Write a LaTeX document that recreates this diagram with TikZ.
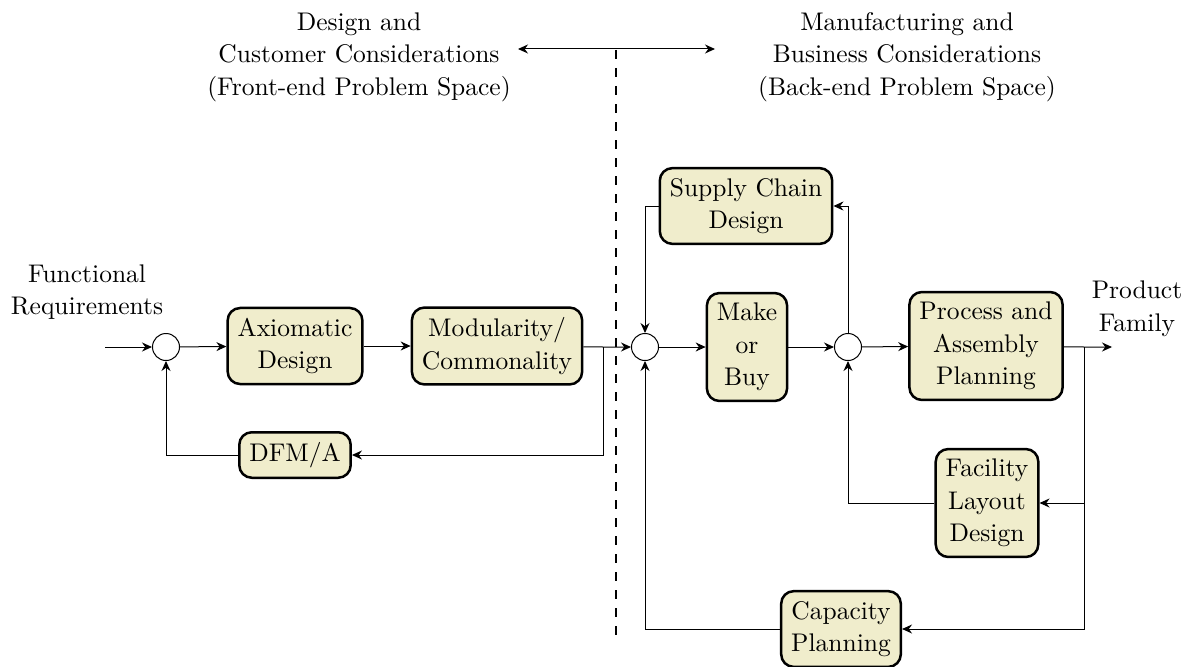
\documentclass[tikz,border=0pt]{standalone}
\usetikzlibrary{arrows.meta}
\definecolor{boxfill}{RGB}{240,237,204}
\begin{document}
\begin{tikzpicture}[x=0.4pt, y=-0.4pt,
  font=\fontsize{10.2}{13}\selectfont,
  >={Stealth[length=4pt,width=3.6pt]},
  block/.style={draw, line width=1pt, rounded corners=5pt, fill=boxfill,
                align=center, inner sep=4pt},
  junction/.style={draw, circle, fill=white, inner sep=0pt, minimum size=10.8pt},
  label/.style={align=center, inner sep=0pt},
  divider/.style={line width=1pt, dash pattern=on 3.6pt off 3.6pt}]
\useasboundingbox (0,0) rectangle (1191,666);

% headings and the dividing line between problem spaces
\node[label] (front) at (359,57) {Design and\\Customer Considerations\\(Front-end Problem Space)};
\node[label] (back)  at (907,57) {Manufacturing and\\Business Considerations\\(Back-end Problem Space)};
\coordinate (spanL) at (518,49);
\coordinate (spanR) at (715,49);
\coordinate (divTop) at (616,50);
\coordinate (divBot) at (616,642);
\draw[<->] (spanL) -- (spanR);
\draw[divider] (divTop) -- (divBot);

% main chain
\node[label] (fr) at (87,292) {Functional\\Requirements};
\coordinate (in) at (105,347);
\node[junction] (c1) at (166,347) {};
\node[block] (ax) at (295,346) {Axiomatic\\Design};
\node[block] (mod) at (497,346) {Modularity/\\Commonality};
\coordinate (br1) at (603,347);
\node[junction] (c2) at (645,347) {};
\node[block] (mob) at (747,347) {Make\\or\\Buy};
\node[junction] (c3) at (848,347) {};
\node[block] (pap) at (986,346) {Process and\\Assembly\\Planning};
\coordinate (br2) at (1084,347);
\coordinate (out) at (1112,347);
\node[label] (pf) at (1137,309) {Product\\Family};

% feedback blocks
\node[block] (dfm) at (295,455) {DFM/A};
\node[block] (sc)  at (746,206) {Supply Chain\\Design};
\node[block] (fld) at (987,503) {Facility\\Layout\\Design};
\node[block] (cap) at (841,629) {Capacity\\Planning};

% forward connections
\draw[->] (in) -- (c1);
\draw[->] (c1) -- (ax);
\draw[->] (ax) -- (mod);
\draw[->] (mod) -- (br1) -- (c2);
\draw[->] (c2) -- (mob);
\draw[->] (mob) -- (c3);
\draw[->] (c3) -- (pap);
\draw[->] (pap) -- (br2) -- (out);

% feedback connections
\draw[->] (br1) |- (dfm.east);
\draw[->] (dfm.west) -| (c1.south);
\draw[->] (sc.west) -| (c2.north);
\draw[->] (c3.north) |- (sc.east);
\draw[->] (br2) |- (fld.east);
\draw[->] (fld.west) -| (c3.south);
\draw[->] (br2) |- (cap.east);
\draw[->] (cap.west) -| (c2.south);
\end{tikzpicture}
\end{document}
